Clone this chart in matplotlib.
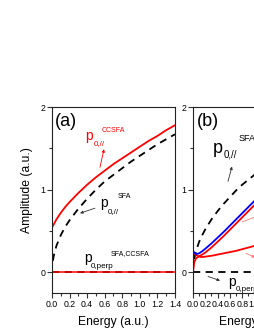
import matplotlib
matplotlib.use("Agg")
import matplotlib.pyplot as plt
from matplotlib.ticker import MultipleLocator

plt.rcParams['font.family'] = ['Liberation Sans', 'DejaVu Sans']

# ---------------- data ----------------
# panel (a)
energy_a = [0.01, 0.02, 0.05, 0.1, 0.15, 0.2, 0.3, 0.4, 0.5, 0.6, 0.7,
            0.8, 0.9, 1.0, 1.1, 1.2, 1.3, 1.4]
ccsfa_par_a = [0.56, 0.58, 0.64, 0.72, 0.79, 0.85, 0.96, 1.06, 1.15, 1.23,
               1.31, 1.38, 1.45, 1.52, 1.59, 1.65, 1.72, 1.78]
sfa_par_a = [0.14, 0.20, 0.32, 0.45, 0.55, 0.63, 0.77, 0.89, 1.00, 1.10,
             1.18, 1.26, 1.34, 1.41, 1.48, 1.55, 1.61, 1.67]
energy_perp_a = [0.0, 1.4]
perp_a = [0.0, 0.0]

# panel (b)
energy_b = [0.0, 0.02, 0.05, 0.1, 0.15, 0.2, 0.3, 0.4, 0.5, 0.6, 0.7,
            0.8, 0.9, 1.0, 1.1]
blue_b = [0.26, 0.24, 0.22, 0.23, 0.255, 0.285, 0.35, 0.42, 0.49, 0.565,
          0.64, 0.715, 0.79, 0.865, 0.94]
red_upper_b = [0.0, 0.12, 0.17, 0.195, 0.215, 0.24, 0.30, 0.37, 0.44,
               0.515, 0.59, 0.665, 0.74, 0.815, 0.89]
red_lower_b = [0.25, 0.23, 0.21, 0.19, 0.185, 0.19, 0.20, 0.215, 0.23,
               0.245, 0.26, 0.28, 0.30, 0.32, 0.34]
energy_sfa_b = [0.02, 0.05, 0.1, 0.15, 0.2, 0.3, 0.4, 0.5, 0.6, 0.7, 0.8,
                0.9, 1.0, 1.1]
sfa_par_b = [0.16, 0.26, 0.37, 0.45, 0.52, 0.64, 0.74, 0.83, 0.91, 0.99,
             1.06, 1.12, 1.18, 1.24]
energy_perp_b = [0.0, 2.0]
perp_b = [0.0, 0.0]

xticks_a = [0.0, 0.2, 0.4, 0.6, 0.8, 1.0, 1.2, 1.4]
xticks_b = [0.0, 0.2, 0.4, 0.6, 0.8, 1.0, 1.2, 1.4, 1.6, 1.8, 2.0]
yticks = [0, 1, 2]

RED = '#ff0000'
BLUE = '#0000ff'
LIGHTRED = '#ff7a7a'
DASH = (0, (4, 3))

fig = plt.figure(figsize=(2.55, 3.30), dpi=100)
W, H = 255.0, 330.0
axw = 123 / W
axh = 186 / H
axb = (330 - 293) / H
ax_a = fig.add_axes([52 / W, axb, axw, axh])
ax_b = fig.add_axes([193 / W, axb, axw, axh])


def style(ax, xticks, xmax):
    ax.set_xlim(0, xmax)
    ax.set_ylim(-0.25, 2.0)
    ax.set_xticks(xticks)
    ax.set_xticklabels(['%.1f' % t for t in xticks])
    ax.set_yticks(yticks)
    ax.set_yticklabels([str(t) for t in yticks])
    ax.xaxis.set_minor_locator(MultipleLocator(0.1))
    ax.yaxis.set_minor_locator(MultipleLocator(0.5))
    ax.tick_params(which='both', direction='out', width=0.8, color='#333333',
                   labelsize=6.3, pad=1.5)
    ax.tick_params(which='major', length=3.5)
    ax.tick_params(which='minor', length=2)
    for s in ax.spines.values():
        s.set_linewidth(0.8)
        s.set_color('#222222')
    ax.set_xlabel('Energy (a.u.)', fontsize=8.7)
    ax.xaxis.set_label_coords(0.5, -0.125)


style(ax_a, xticks_a, 1.4)
style(ax_b, xticks_b, 2.0)

ax_a.set_ylabel('Amplitude (a.u.)', fontsize=8.7, va='center')
ax_a.yaxis.set_label_coords(-0.203, 0.554)

# ---- panel (a) lines
ax_a.plot(energy_perp_a, perp_a, color='black', lw=1.3, ls=DASH)
ax_a.plot(energy_perp_a, perp_a, color=RED, lw=1.3, alpha=0.85)
ax_a.plot(energy_a, sfa_par_a, color='black', lw=1.3, ls=DASH)
ax_a.plot(energy_a, ccsfa_par_a, color=RED, lw=1.3)

# ---- panel (a) labels
ax_a.text(0.03, 1.83, '(a)', fontsize=13, ha='left', va='center')
ax_a.text(0.376, 1.60, 'p', fontsize=10, color=RED, va='baseline')
ax_a.text(0.478, 1.54, '0,//', fontsize=5.8, color=RED, va='baseline')
ax_a.text(0.569, 1.70, 'CCSFA', fontsize=5, color=RED, va='baseline')
ax_a.annotate('', xy=(0.592, 1.49), xytext=(0.546, 1.27),
              arrowprops=dict(arrowstyle='-|>', color=RED, lw=0.6,
                              mutation_scale=4, shrinkA=0, shrinkB=0))

ax_a.text(0.546, 0.79, 'p', fontsize=10, color='black', va='baseline')
ax_a.text(0.635, 0.72, '0,//', fontsize=5.8, color='black', va='baseline')
ax_a.text(0.751, 0.90, 'SFA', fontsize=5, color='black', va='baseline')
ax_a.annotate('', xy=(0.319, 0.715), xytext=(0.489, 0.776),
              arrowprops=dict(arrowstyle='-|>', color='#333333', lw=0.6,
                              mutation_scale=4, shrinkA=0, shrinkB=0))

ax_a.text(0.364, 0.12, 'p', fontsize=10, color='black', va='baseline')
ax_a.text(0.444, 0.05, '0,perp', fontsize=5.8, color='black', va='baseline')
ax_a.text(0.672, 0.206, 'SFA,CCSFA', fontsize=5, color='black', va='baseline')

# ---- panel (b) lines
ax_b.plot(energy_perp_b, perp_b, color='black', lw=1.3, ls=DASH)
ax_b.plot(energy_sfa_b, sfa_par_b, color='black', lw=1.3, ls=DASH)
ax_b.plot(energy_b, red_lower_b, color=RED, lw=1.3)
ax_b.plot(energy_b, red_upper_b, color=RED, lw=1.3)
ax_b.plot(energy_b, blue_b, color=BLUE, lw=1.3)

# ---- panel (b) labels
ax_b.text(0.065, 1.83, '(b)', fontsize=13, ha='left', va='center')
ax_b.text(0.325, 1.44, 'p', fontsize=13, color='black', va='baseline')
ax_b.text(0.49, 1.39, '0,//', fontsize=7, color='black', va='baseline')
ax_b.text(0.748, 1.59, 'SFA', fontsize=6.5, color='black', va='baseline')
ax_b.annotate('', xy=(0.634, 1.28), xytext=(0.569, 1.10),
              arrowprops=dict(arrowstyle='-|>', color='#333333', lw=0.6,
                              mutation_scale=4, shrinkA=0, shrinkB=0))

ax_b.text(0.569, -0.16, 'p', fontsize=10, color='black', va='baseline')
ax_b.text(0.70, -0.22, '0,perp', fontsize=5.8, color='black', va='baseline')
ax_b.annotate('', xy=(0.44, -0.10), xytext=(0.244, -0.05),
              arrowprops=dict(arrowstyle='-|>', color='#333333', lw=0.6,
                              mutation_scale=4, shrinkA=0, shrinkB=0))

ax_b.annotate('', xy=(1.15, 0.71), xytext=(0.80, 0.61),
              arrowprops=dict(arrowstyle='-|>', color=LIGHTRED, lw=0.6,
                              mutation_scale=4, shrinkA=0, shrinkB=0),
              annotation_clip=False)
ax_b.annotate('', xy=(1.01, 0.18), xytext=(0.86, 0.23),
              arrowprops=dict(arrowstyle='-|>', color=LIGHTRED, lw=0.6,
                              mutation_scale=4, shrinkA=0, shrinkB=0),
              annotation_clip=False)

fig.savefig('out.png', dpi=100)
